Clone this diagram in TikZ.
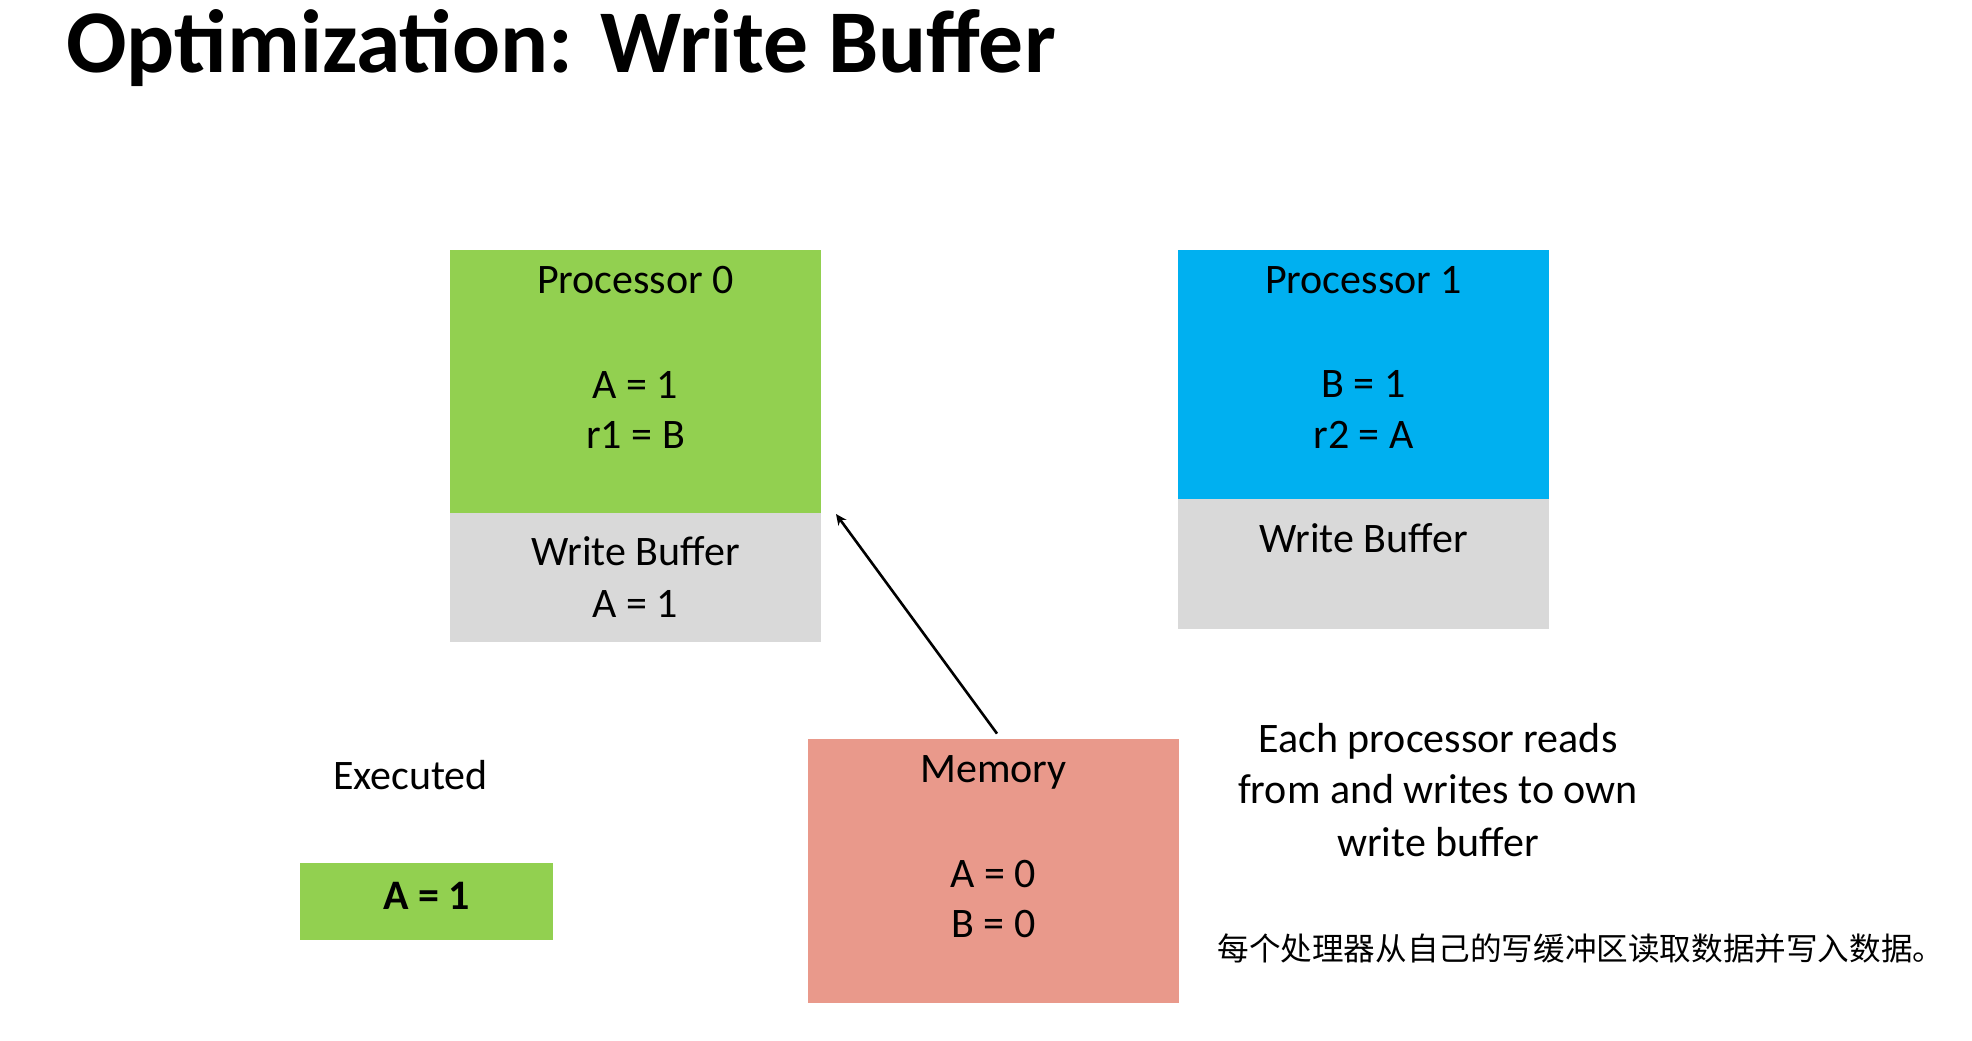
\documentclass[tikz,border=0pt]{standalone}
\usepackage{fontspec}
\setmainfont{Carlito}
\newfontfamily\cjk{Noto Sans CJK SC}
\usetikzlibrary{positioning,calc,arrows.meta}
\definecolor{cpugreen}{HTML}{92D050}
\definecolor{cpublue}{HTML}{00B0F0}
\definecolor{buffergray}{HTML}{D9D9D9}
\definecolor{memred}{HTML}{E9998B}
\tikzset{
  block/.style={rectangle, inner sep=0pt, minimum width=185.5pt},
  txt/.style={inner sep=0pt, anchor=base, font=\fontsize{21}{25}\selectfont},
}

\begin{document}
\begin{tikzpicture}[x=0.5pt, y=-0.5pt]
        \useasboundingbox (0,0) rectangle (1972,1040);
        \node[inner sep=0pt, anchor=base west, font=\fontsize{44.8}{54}\selectfont\bfseries] (title) at (66,72) {Optimization: Write Buffer};
        % processor 0
        \node[block, fill=cpugreen, minimum height=131.5pt] (p0) at (635.5,381.5) {};
        \node[block, fill=buffergray, minimum height=64.5pt] (wb0) at (635.5,577.5) {};
        \node[txt] (p0name) at (635.5,293) {Processor 0};
        \node[txt] (p0a) at (635.5,398) {A = 1};
        \node[txt] (p0r) at (635.5,448) {r1 = B};
        \node[txt] (wb0name) at (635.5,565) {Write Buffer};
        \node[txt] (wb0a) at (635.5,617) {A = 1};
        % processor 1
        \node[block, fill=cpublue, minimum height=124.5pt] (p1) at (1363.5,374.5) {};
        \node[block, fill=buffergray, minimum height=65pt] (wb1) at (1363.5,564) {};
        \node[txt] (p1name) at (1363.5,293) {Processor 1};
        \node[txt] (p1b) at (1363.5,397) {B = 1};
        \node[txt] (p1r) at (1363.5,448) {r2 = A};
        \node[txt] (wb1name) at (1363.5,552) {Write Buffer};
        % memory
        \node[block, fill=memred, minimum height=132pt] (mem) at (993.5,871) {};
        \node[txt] (memname) at (993.5,782) {Memory};
        \node[txt] (mema) at (993.5,887) {A = 0};
        \node[txt] (memb) at (993.5,937) {B = 0};
        % executed
        \node[txt] (exec) at (410.5,789) {Executed};
        \node[rectangle, inner sep=0pt, fill=cpugreen, minimum width=126.5pt, minimum height=38.5pt] (done) at (426.5,901.5) {};
        \node[txt, font=\fontsize{21}{25}\selectfont\bfseries] (donea) at (426.5,909) {A = 1};
        % note
        \node[txt] (note1) at (1438,752) {Each processor reads};
        \node[txt] (note2) at (1438,803) {from and writes to own};
        \node[txt] (note3) at (1438,856) {write buffer};
        \node[inner sep=0pt, anchor=base west, font=\fontsize{15.8}{18}\cjk] (notecn) at (1217,960) {每个处理器从自己的写缓冲区读取数据并写入数据。};
        \coordinate (hit) at (836,514);
        \draw[line width=1.3pt, -{Stealth[length=5.5pt,width=5pt]}] ($(mem.north)+(3.5,-5)$) -- (hit);
\end{tikzpicture}
\end{document}
